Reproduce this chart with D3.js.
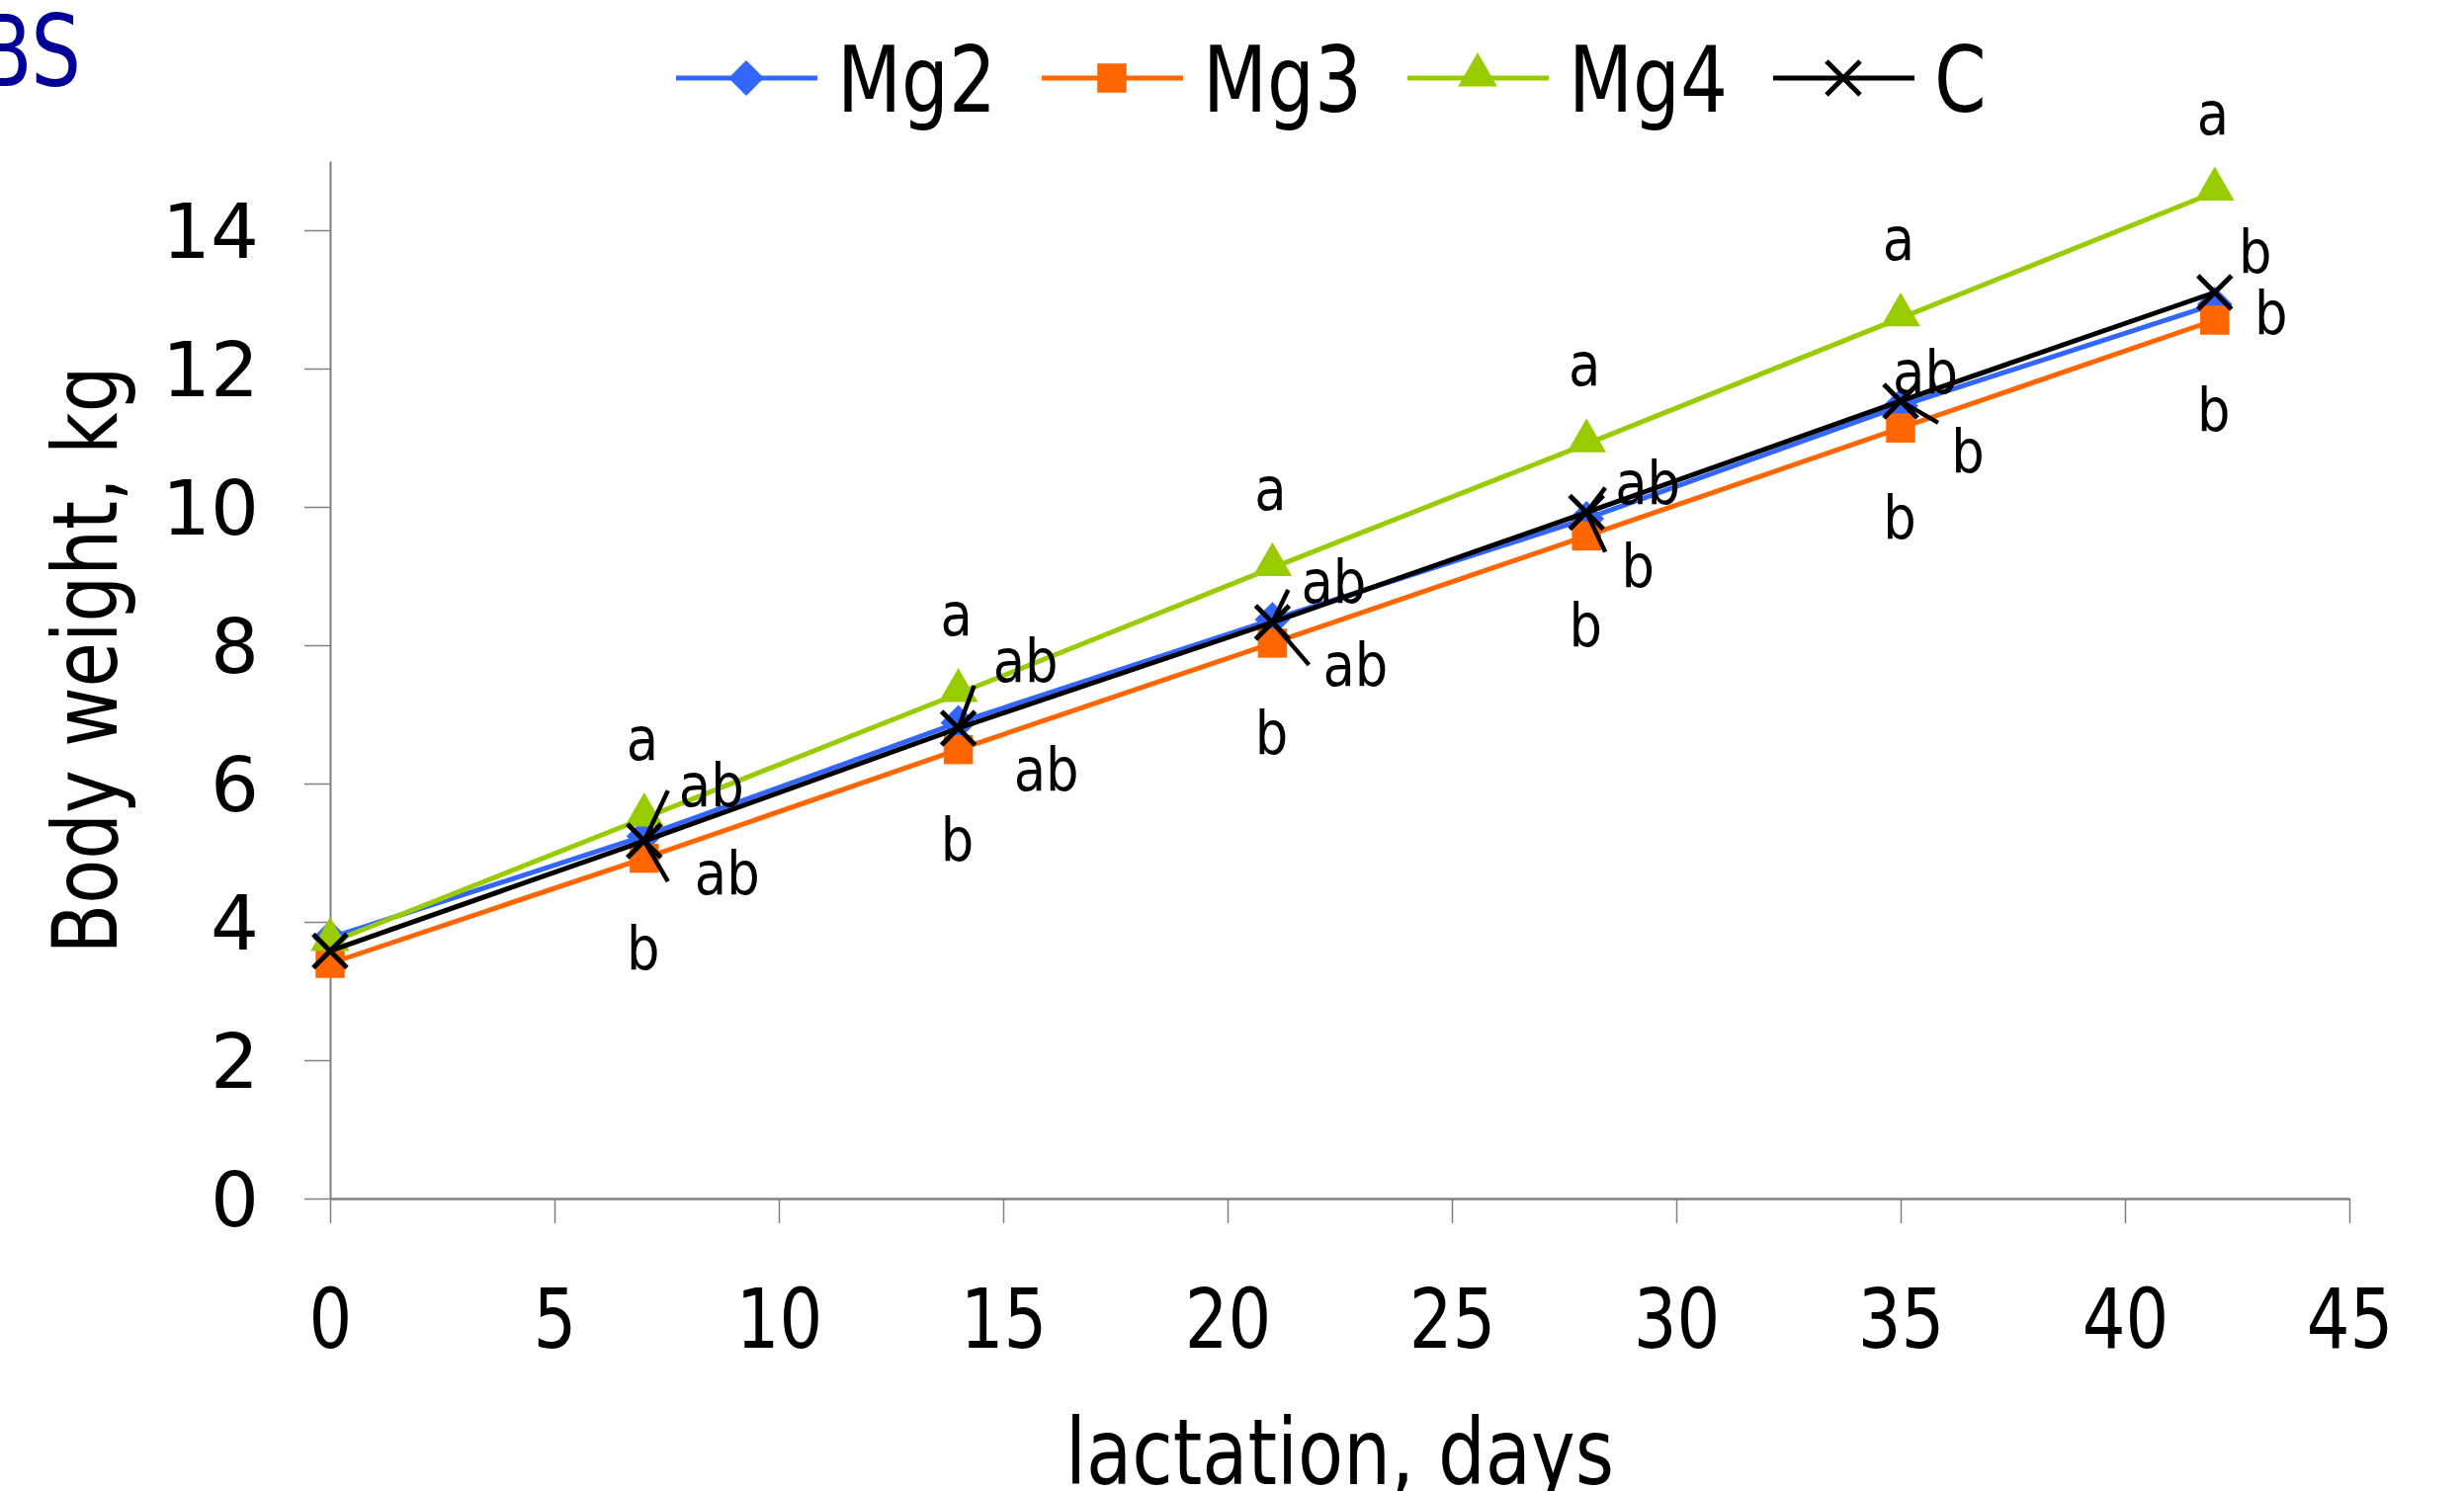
<!DOCTYPE html>
<html>
<head>
<meta charset="utf-8">
<script src="https://cdn.jsdelivr.net/npm/d3@7"></script>
<style>
  html, body { margin: 0; padding: 0; background: #fff; }
  svg text { font-family: "DejaVu Sans", Verdana, sans-serif; fill: #000; }
</style>
</head>
<body>
<svg id="chart" width="2493" height="1509"></svg>
<script>
// 데이터
const days = [0, 7, 14, 21, 28, 35, 42];
const mg2 = [3.77, 5.24, 6.88, 8.37, 9.83, 11.46, 12.93];
const mg3 = [3.4, 4.92, 6.49, 8.03, 9.58, 11.14, 12.7];
const mg4 = [3.7, 5.5, 7.3, 9.12, 10.91, 12.73, 14.55];
const ctrl = [3.58, 5.17, 6.8, 8.33, 9.92, 11.53, 13.1];

// 유의차 문자
const mg2Letters = ["", "ab", "ab", "ab", "b", "b", "b"];
const mg3Letters = ["", "b", "b", "b", "b", "b", "b"];
const mg4Letters = ["", "a", "a", "a", "a", "a", "a"];
const ctrlLetters = ["", "ab", "ab", "ab", "ab", "ab", "b"];

const seriesNames = ["Mg2", "Mg3", "Mg4", "C"];
const xTicks = [0, 5, 10, 15, 20, 25, 30, 35, 40, 45];
const yTicks = [0, 2, 4, 6, 8, 10, 12, 14];

// 라벨 위치 (점 기준 오프셋, px)
const labelShift = {
  Mg2: [[0, 0], [84, 38], [89, 48], [84, 46], [52, 48], [68, 46], [57, 9]],
  Mg3: days.map(() => [-1, 91]),
  Mg4: days.map(() => [-2, -80]),
  C: [[0, 0], [68, -56], [68, -68], [62, -41], [62, -30], [25, -29], [41, -41]]
};
// C 점에서 나가는 지시선
const leaderShift = [[], [[24, -51], [24, 41]], [[16, -43]], [[16, -33], [37, 43]], [[19, -25], [19, 40]], [[38, 22]], []];

const svg = d3.select("#chart");
const plotLeft = 334, plotRight = 2377, plotTop = 163, plotBottom = 1213;

const x = d3.scaleLinear().domain([0, 45]).range([plotLeft, plotRight]);
const y = d3.scaleLinear().domain([0, 15]).range([plotBottom, plotTop]);

const series = [
  { name: "Mg2", values: mg2, letters: mg2Letters, color: "#3366ff", marker: "diamond" },
  { name: "Mg3", values: mg3, letters: mg3Letters, color: "#ff6600", marker: "square" },
  { name: "Mg4", values: mg4, letters: mg4Letters, color: "#99cc00", marker: "triangle" },
  { name: "C", values: ctrl, letters: ctrlLetters, color: "#000000", marker: "x" }
];

// 축
const xAxis = svg.append("g")
  .attr("transform", `translate(0,${plotBottom})`)
  .call(d3.axisBottom(x).tickValues(xTicks).tickSize(25).tickSizeOuter(0).tickFormat(d3.format("d")));
xAxis.select(".domain").attr("stroke", "#808080").attr("stroke-width", 2.5);
xAxis.selectAll(".tick line").attr("stroke", "#808080").attr("stroke-width", 1.5);
xAxis.selectAll(".tick text")
  .attr("y", 0).attr("dy", 0)
  .attr("transform", "translate(0,151) scale(0.82,1)")
  .style("font-size", "84px");

const yAxis = svg.append("g")
  .attr("transform", `translate(${plotLeft},0)`)
  .call(d3.axisLeft(y).tickValues(yTicks).tickSize(26).tickSizeOuter(0).tickPadding(46).tickFormat(d3.format("d")));
yAxis.select(".domain").attr("stroke", "#808080").attr("stroke-width", 2);
yAxis.selectAll(".tick line").attr("stroke", "#808080").attr("stroke-width", 1.5);
yAxis.selectAll(".tick text")
  .attr("dy", "0.36em")
  .style("font-size", "77px");

// 축 제목
svg.append("text")
  .attr("transform", `translate(${(plotLeft + plotRight) / 2},1502) scale(0.82,1)`)
  .attr("text-anchor", "middle")
  .style("font-size", "92px")
  .text("lactation, days");

svg.append("text")
  .attr("transform", "translate(118,668) rotate(-90) scale(0.82,1)")
  .attr("text-anchor", "middle")
  .style("font-size", "90px")
  .text("Body weight, kg");

svg.append("text")
  .attr("transform", "translate(82,87) scale(0.8,1)")
  .attr("text-anchor", "end")
  .style("font-size", "100px")
  .style("fill", "#000099")
  .text("BS");

// 마커
function drawMarker(g, type, color) {
  if (type === "diamond") {
    g.append("path").attr("d", d3.symbol(d3.symbolSquare, 640)())
      .attr("transform", "rotate(45)").attr("fill", color);
  } else if (type === "square") {
    g.append("path").attr("d", d3.symbol(d3.symbolSquare, 870)()).attr("fill", color);
  } else if (type === "triangle") {
    g.append("path").attr("d", d3.symbol(d3.symbolTriangle, 680)())
      .attr("transform", "translate(0,-3)").attr("fill", color);
  } else {
    g.append("path").attr("d", "M-17,-17L17,17M-17,17L17,-17")
      .attr("stroke", color).attr("stroke-width", 5).attr("fill", "none");
  }
}

const line = d3.line().x((d, i) => x(days[i])).y(d => y(d));

series.forEach(s => {
  svg.append("path")
    .datum(s.values)
    .attr("d", line)
    .attr("fill", "none")
    .attr("stroke", s.color)
    .attr("stroke-width", 5);

  s.values.forEach((v, i) => {
    const g = svg.append("g").attr("transform", `translate(${x(days[i])},${y(v)})`);
    drawMarker(g, s.marker, s.color);
  });
});

// 지시선
ctrl.forEach((v, i) => {
  leaderShift[i].forEach(([dx, dy]) => {
    svg.append("line")
      .attr("x1", x(days[i])).attr("y1", y(v))
      .attr("x2", x(days[i]) + dx).attr("y2", y(v) + dy)
      .attr("stroke", "#000").attr("stroke-width", 4.5);
  });
});

// 문자 라벨
series.forEach(s => {
  s.values.forEach((v, i) => {
    if (!s.letters[i]) return;
    const [dx, dy] = labelShift[s.name][i];
    svg.append("text")
      .attr("transform", `translate(${x(days[i]) + dx},${y(v) + dy + 21}) scale(0.88,1)`)
      .attr("text-anchor", "middle")
      .style("font-size", "60px")
      .text(s.letters[i]);
  });
});

// 범례
const legend = svg.append("g").attr("transform", "translate(684,79)");
series.forEach((s, i) => {
  const item = legend.append("g").attr("transform", `translate(${i * 370},0)`);
  item.append("line")
    .attr("x1", 0).attr("x2", 143).attr("y1", 0).attr("y2", 0)
    .attr("stroke", s.color).attr("stroke-width", 5);
  const m = item.append("g").attr("transform", "translate(71,0)");
  drawMarker(m, s.marker, s.color);
  item.append("text")
    .attr("transform", "translate(163,34) scale(0.82,1)")
    .style("font-size", "92px")
    .text(s.name);
});
</script>
</body>
</html>
